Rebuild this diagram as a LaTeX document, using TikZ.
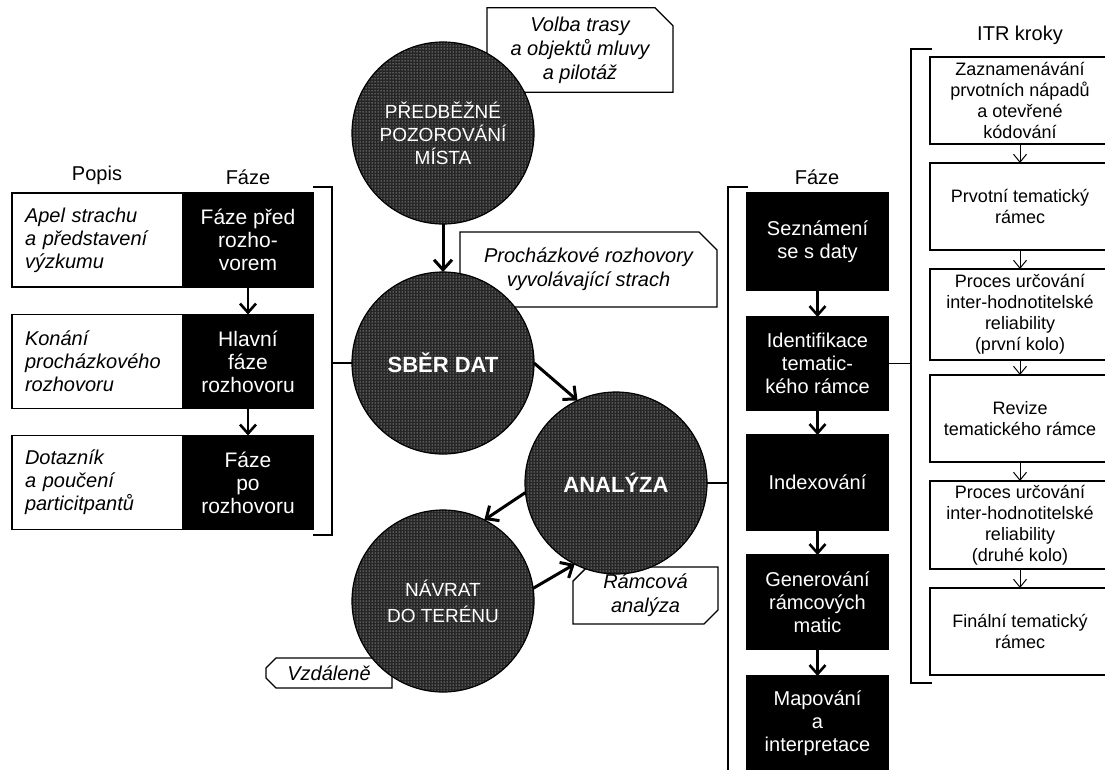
\documentclass[tikz,border=0pt]{standalone}
\usepackage{fontspec}
\setmainfont{Liberation Sans}
\usetikzlibrary{arrows.meta,patterns,shapes.misc}
\begin{document}
\begin{tikzpicture}[x=1pt,y=-1pt,
  every node/.style={inner sep=0pt, outer sep=0pt},
  lbl/.style={font=\fontsize{20}{23}\selectfont},
  popis/.style={draw, line width=1.2pt, fill=white, minimum width=171pt, minimum height=94pt,
    text width=145pt, align=left, font=\itshape\fontsize{20}{23}\selectfont},
  lfaze/.style={draw=black, line width=1.2pt, fill=black, text=white, minimum width=130pt,
    minimum height=94pt, align=center, font=\fontsize{21}{23}\selectfont},
  rfaze/.style={draw=black, line width=1.2pt, fill=black, text=white, minimum width=141pt,
    align=center, font=\fontsize{20}{23}\selectfont},
  itr/.style={draw, line width=1.2pt, fill=white, minimum width=180pt, align=center,
    font=\fontsize{18}{21}\selectfont},
  phase/.style={circle, minimum size=182pt, draw, line width=1.2pt,
    preaction={fill=black!85}, pattern=dots, pattern color=white, text=white, align=center},
  callout/.style={chamfered rectangle, draw, line width=1.3pt, fill=white, align=center,
    chamfered rectangle xsep=9pt, chamfered rectangle ysep=9pt,
    font=\itshape\fontsize{20}{24}\selectfont},
  bk/.style={line width=1.2pt},
  arr/.style={line width=2.6pt, -{Straight Barb[length=9pt,width=16pt]}},
  carr/.style={line width=3pt, -{Straight Barb[length=10pt,width=18pt]}},
  tarr/.style={line width=1pt, -{Straight Barb[length=8pt,width=13pt]}}
]
\useasboundingbox (0,0) rectangle (1105,769);

% labels
\node[lbl] (lpopis) at (97,175) {Popis};
\node[lbl] (lfazel) at (248,177) {Fáze};
\node[lbl] (lfazer) at (817,177) {Fáze};
\node[lbl] (litr) at (1020,35) {ITR kroky};

% left column
\node[popis] (p1) at (97.5,240) {Apel strachu\\a představení\\výzkumu};
\node[lfaze] (f1) at (248,240) {Fáze před\\rozho-\\vorem};
\node[popis] (p2) at (97.5,361.5) {Konání\\procházkového\\rozhovoru};
\node[lfaze] (f2) at (248,361.5) {Hlavní\\fáze\\rozhovoru};
\node[popis] (p3) at (97.5,482.5) {Dotazník\\a poučení\\particitpantů};
\node[lfaze] (f3) at (248,482.5) {Fáze\\po\\rozhovoru};
\draw[arr] (f1.south) -- (f2.north);
\draw[arr] (f2.south) -- (f3.north);

% callouts (behind circles)
\node[callout, chamfered rectangle corners=north east, minimum width=186pt, minimum height=76pt]
  (cv) at (580,50) {Volba trasy\\a objektů mluvy\\a pilotáž};
\node[callout, chamfered rectangle corners=north east, minimum width=257pt, minimum height=75pt]
  (cp) at (588.5,269.5) {Procházkové rozhovory\\vyvolávající strach};
\node[callout, chamfered rectangle corners={north west,south east}, minimum width=145pt, minimum height=53pt,
  chamfered rectangle xsep=7pt, chamfered rectangle ysep=7pt]
  (cr) at (645.5,595.5) {Rámcová\\analýza};
\node[callout, chamfered rectangle corners={north west,south west}, minimum width=126pt, minimum height=30pt,
  chamfered rectangle xsep=5pt, chamfered rectangle ysep=5pt]
  (cz) at (329,673) {Vzdáleně};

% circles
\node[phase, font=\fontsize{19}{23}\selectfont] (c1) at (443,133) {PŘEDBĚŽNÉ\\POZOROVÁNÍ\\MÍSTA};
\node[phase, font=\bfseries\fontsize{22}{25}\selectfont] (c2) at (443,363) {SBĚR DAT};
\node[phase, font=\bfseries\fontsize{22}{25}\selectfont] (c3) at (616,483) {ANALÝZA};
\node[phase, font=\fontsize{19}{26}\selectfont] (c4) at (443,601) {NÁVRAT\\DO TERÉNU};

\draw[carr] (c1.south) -- (c2.north);
\draw[carr] (c2.east) -- (c3.115);
\draw[carr] (c3.186) -- (c4.63);
\draw[carr] (c4.8) -- (c3.243);

% left bracket
\coordinate (lb1) at (313,187);
\coordinate (lb2) at (332,187);
\coordinate (lb3) at (332,535);
\coordinate (lb4) at (313,535);
\draw[bk] (lb1) -- (lb2) -- (lb3) -- (lb4);
\draw[bk] (lb2|-c2) -- (c2.west);

% right phase column
\node[rfaze, minimum height=97pt] (b1) at (817.5,241.5) {Seznámení\\se s daty};
\node[rfaze, minimum height=93pt] (b2) at (817.5,363.5) {Identifikace\\tematic-\\kého rámce};
\node[rfaze, minimum height=95pt] (b3) at (817.5,482.5) {Indexování};
\node[rfaze, minimum height=94pt] (b4) at (817.5,602) {Generování\\rámcových\\matic};
\node[rfaze, minimum height=95pt] (b5) at (817.5,723.5) {Mapování\\a\\interpretace};
\draw[arr] (b1.south) -- (b2.north);
\draw[arr] (b2.south) -- (b3.north);
\draw[arr] (b3.south) -- (b4.north);
\draw[arr] (b4.south) -- (b5.north);

\coordinate (rb1) at (748,187);
\coordinate (rb2) at (728,187);
\coordinate (rb3) at (728,780);
\draw[bk] (rb1) -- (rb2) -- (rb3);
\draw[bk] (c3.east) -- (rb2|-c3);

% ITR column
\node[itr, minimum height=87pt] (i1) at (1020,100.5) {Zaznamenávání\\prvotních nápadů\\a otevřené\\kódování};
\node[itr, minimum height=87pt] (i2) at (1020,206.5) {Prvotní tematický\\rámec};
\node[itr, minimum height=91pt] (i3) at (1020,314.5) {Proces určování\\inter-hodnotitelské\\reliability\\(první kolo)};
\node[itr, minimum height=87pt] (i4) at (1020,418.5) {Revize\\tematického rámce};
\node[itr, minimum height=88pt] (i5) at (1020,525) {Proces určování\\inter-hodnotitelské\\reliability\\(druhé kolo)};
\node[itr, minimum height=87pt] (i6) at (1020,631.5) {Finální tematický\\rámec};
\draw[tarr] (i1.south) -- (i2.north);
\draw[tarr] (i2.south) -- (i3.north);
\draw[tarr] (i3.south) -- (i4.north);
\draw[tarr] (i4.south) -- (i5.north);
\draw[tarr] (i5.south) -- (i6.north);

\coordinate (ib1) at (932,49);
\coordinate (ib2) at (911,49);
\coordinate (ib3) at (911,683);
\coordinate (ib4) at (932,683);
\draw[bk] (ib1) -- (ib2) -- (ib3) -- (ib4);
\draw[bk] (b2.east) -- (ib2|-b2);
\end{tikzpicture}
\end{document}
